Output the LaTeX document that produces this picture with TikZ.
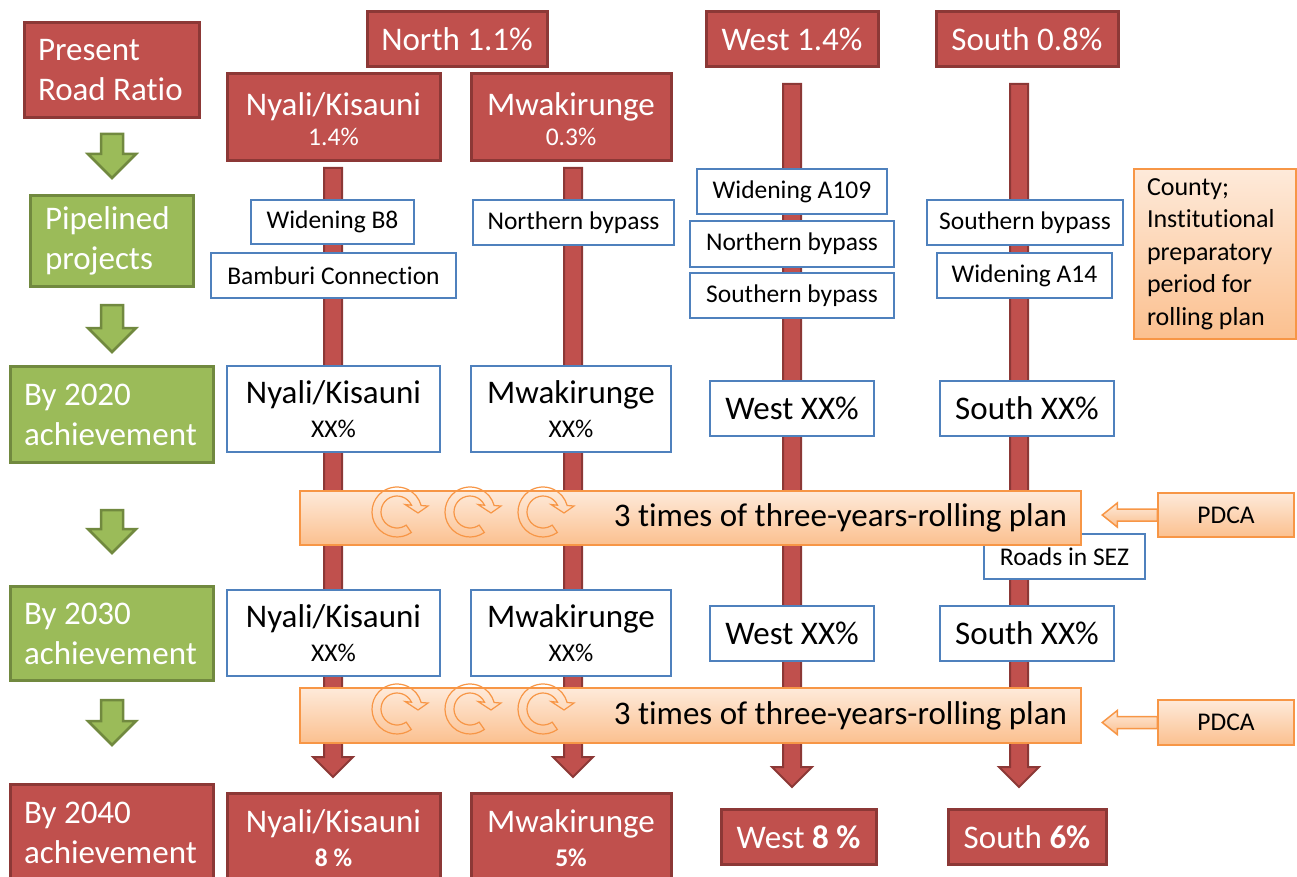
\documentclass[tikz,border=0pt]{standalone}
\usepackage{fontspec}
\setmainfont{Carlito}[Ligatures=NoCommon]
\definecolor{rfill}{RGB}{192,80,77}
\definecolor{rdraw}{RGB}{140,56,54}
\definecolor{gfill}{RGB}{155,187,89}
\definecolor{gdraw}{RGB}{113,137,63}
\definecolor{bdraw}{RGB}{79,129,189}
\definecolor{odraw}{RGB}{247,150,70}
\definecolor{otop}{RGB}{254,234,218}
\definecolor{obot}{RGB}{251,192,143}
\newcommand\bigf{\fontsize{33}{40}\selectfont}
\newcommand\smf{\fontsize{25.5}{30}\selectfont}
\newcommand\redshaft[3]{\draw[rarrow] (#1-9,#2) -- (#1+9,#2) -- (#1+9,#3-20) -- (#1+20,#3-20) -- (#1,#3) -- (#1-20,#3-20) -- (#1-9,#3-20) -- cycle;}
\newcommand\greenarrow[2]{\draw[garrow] (101,#1) -- (123,#1) -- (123,#2-24) -- (136,#2-24) -- (112,#2) -- (88,#2-24) -- (101,#2-24) -- cycle;}
\newcommand\cyc[2]{\begin{scope}[shift={(#1,#2)},yscale=-1]
 \draw[odraw,line width=1.2] (-55:25) arc[start angle=-55,end angle=-345,radius=25] -- (31,6) -- (21,-1) -- (8,7.5) -- (25:16) arc[start angle=25,end angle=305,radius=16] -- cycle;
 \end{scope}}
\begin{document}
\begin{tikzpicture}[x=1pt,y=-1pt,
 labelbox/.style={line width=3,text=white,align=flush left,inner ysep=0,font=\bigf},
 redlabel/.style={labelbox,draw=rdraw,fill=rfill},
 greenlabel/.style={labelbox,draw=gdraw,fill=gfill},
 redbox/.style={draw=rdraw,fill=rfill,line width=3,text=white,align=flush center,inner sep=0,font=\bigf},
 bluebox/.style={draw=bdraw,fill=white,line width=2.5,align=flush center,inner sep=0,font=\smf},
 bigblue/.style={bluebox,font=\bigf},
 orangebox/.style={draw=odraw,line width=1.5,top color=otop,bottom color=obot},
 rarrow/.style={draw=rdraw,fill=rfill,line width=2},
 garrow/.style={draw=gdraw,fill=gfill,line width=2.5},
 oarrow/.style={orangebox,line width=1.5}]
\useasboundingbox (0,0) rectangle (1297,877);

% vertical red arrows
\redshaft{333}{168}{777}
\redshaft{573}{168}{777}
\redshaft{792}{84}{787}
\redshaft{1019}{84}{787}

% green arrows
\greenarrow{134}{178}
\greenarrow{305}{352}
\greenarrow{510}{553}
\greenarrow{700}{745}

% left labels
\node[redlabel,minimum width=175,minimum height=95,text width=147,inner xsep=14] (present) at (111.5,70.5) {Present\\Road Ratio};
\node[greenlabel,minimum width=163,minimum height=91,text width=133,inner xsep=15] (pipe) at (111.5,241) {Pipelined\\projects};
\node[greenlabel,minimum width=203,minimum height=96,text width=175,inner xsep=14] (by20) at (111.5,414.5) {By 2020\\achievement};
\node[greenlabel,minimum width=203,minimum height=94,text width=175,inner xsep=14] (by30) at (111.5,633.5) {By 2030\\achievement};
\node[redlabel,minimum width=203,minimum height=96,text width=175,inner xsep=14] (by40) at (111.5,832.5) {By 2040\\achievement};

% header boxes
\node[redbox,minimum width=180,minimum height=55] (north) at (457,39.5) {North 1.1\%};
\node[redbox,minimum width=172,minimum height=55] (west) at (792,39.5) {West 1.4\%};
\node[redbox,minimum width=182,minimum height=55] (south) at (1027,39.5) {South 0.8\%};
\node[redbox,minimum width=213,minimum height=87] (nyH) at (333.5,117.5) {};
\node[redbox,minimum width=200,minimum height=87] (mwH) at (571,117.5) {};
\node[redbox,draw=none,fill=none] (nyHt) at (333.5,119) {Nyali/Kisauni\\[-10pt]\smf 1.4\%};
\node[redbox,draw=none,fill=none] (mwHt) at (571,119) {Mwakirunge\\[-10pt]\smf 0.3\%};

% pipelined projects
\node[bluebox,minimum width=163,minimum height=44] (b8) at (332.5,222) {Widening B8};
\node[bluebox,minimum width=245,minimum height=45] (bam) at (333.5,275.5) {Bamburi Connection};
\node[bluebox,minimum width=201,minimum height=45] (nbM) at (573.5,222.5) {Northern bypass};
\node[bluebox,minimum width=190,minimum height=45] (a109) at (792,191.5) {Widening A109};
\node[bluebox,minimum width=204,minimum height=46] (nbW) at (792,244) {Northern bypass};
\node[bluebox,minimum width=204,minimum height=45] (sbW) at (792,295.5) {Southern bypass};
\node[bluebox,minimum width=196,minimum height=45] (sbS) at (1025,222.5) {Southern bypass};
\node[bluebox,minimum width=175,minimum height=45] (a14) at (1024.5,275.5) {Widening A14};
\node[orangebox,minimum height=170,text width=136,inner xsep=13,align=flush left,font=\fontsize{26}{32.5}\selectfont] (county) at (1215,254) {County;\\Institutional\\preparatory\\period for\\rolling plan};

% 2020
\node[bigblue,minimum width=213,minimum height=86] (ny20) at (333.5,409) {Nyali/Kisauni\\[-6pt]\smf XX\%};
\node[bigblue,minimum width=200,minimum height=86] (mw20) at (571,409) {Mwakirunge\\[-6pt]\smf XX\%};
\node[bigblue,minimum width=164,minimum height=55] (we20) at (792,408.5) {West XX\%};
\node[bigblue,minimum width=174,minimum height=55] (so20) at (1027,408.5) {South XX\%};

% 2030
\node[bigblue,minimum width=213,minimum height=86] (ny30) at (333.5,633) {Nyali/Kisauni\\[-6pt]\smf XX\%};
\node[bigblue,minimum width=200,minimum height=86] (mw30) at (571,633) {Mwakirunge\\[-6pt]\smf XX\%};
\node[bigblue,minimum width=164,minimum height=55] (we30) at (792,633.5) {West XX\%};
\node[bigblue,minimum width=174,minimum height=55] (so30) at (1027,633.5) {South XX\%};

% SEZ
\node[bluebox,minimum width=161,minimum height=45] (sez) at (1064.5,556.5) {Roads in SEZ};

% rolling plan bars
\node[orangebox,minimum height=54,text width=753,inner xsep=14,align=flush right,font=\bigf] (bar1) at (690.5,518) {3 times of three-years-rolling plan};
\node[orangebox,minimum height=55,text width=753,inner xsep=14,align=flush right,font=\bigf] (bar2) at (690.5,715.5) {3 times of three-years-rolling plan};
\cyc{397}{512}\cyc{470}{512}\cyc{543}{512}
\cyc{397}{709}\cyc{470}{709}\cyc{543}{709}

% PDCA
\node[orangebox,minimum width=136,minimum height=44,font=\smf] (pdca1) at (1226,515) {PDCA};
\node[orangebox,minimum width=136,minimum height=45,font=\smf] (pdca2) at (1226,722.5) {PDCA};
\draw[oarrow] (pdca1.west) ++(0,-6) -- ++(-40,0) -- ++(0,-6) -- ++(-15,12) -- ++(15,12) -- ++(0,-6) -- ++(40,0) -- cycle;
\draw[oarrow] (pdca2.west) ++(0,-6) -- ++(-40,0) -- ++(0,-6) -- ++(-15,12) -- ++(15,12) -- ++(0,-6) -- ++(40,0) -- cycle;

% 2040
\node[redbox,minimum width=213,minimum height=87] (ny40) at (333.5,836.5) {};
\node[redbox,minimum width=200,minimum height=87] (mw40) at (571,836.5) {};
\node[redbox,draw=none,fill=none] (ny40t) at (333.5,838.5) {Nyali/Kisauni\\[-6pt]\smf\bfseries 8 \%};
\node[redbox,draw=none,fill=none] (mw40t) at (571,838.5) {Mwakirunge\\[-6pt]\smf\bfseries 5\%};
\node[redbox,minimum width=155,minimum height=55] (we40) at (798.5,837) {West \textbf{8 \%}};
\node[redbox,minimum width=158,minimum height=55] (so40) at (1027,837) {South \textbf{6\%}};
\end{tikzpicture}
\end{document}
